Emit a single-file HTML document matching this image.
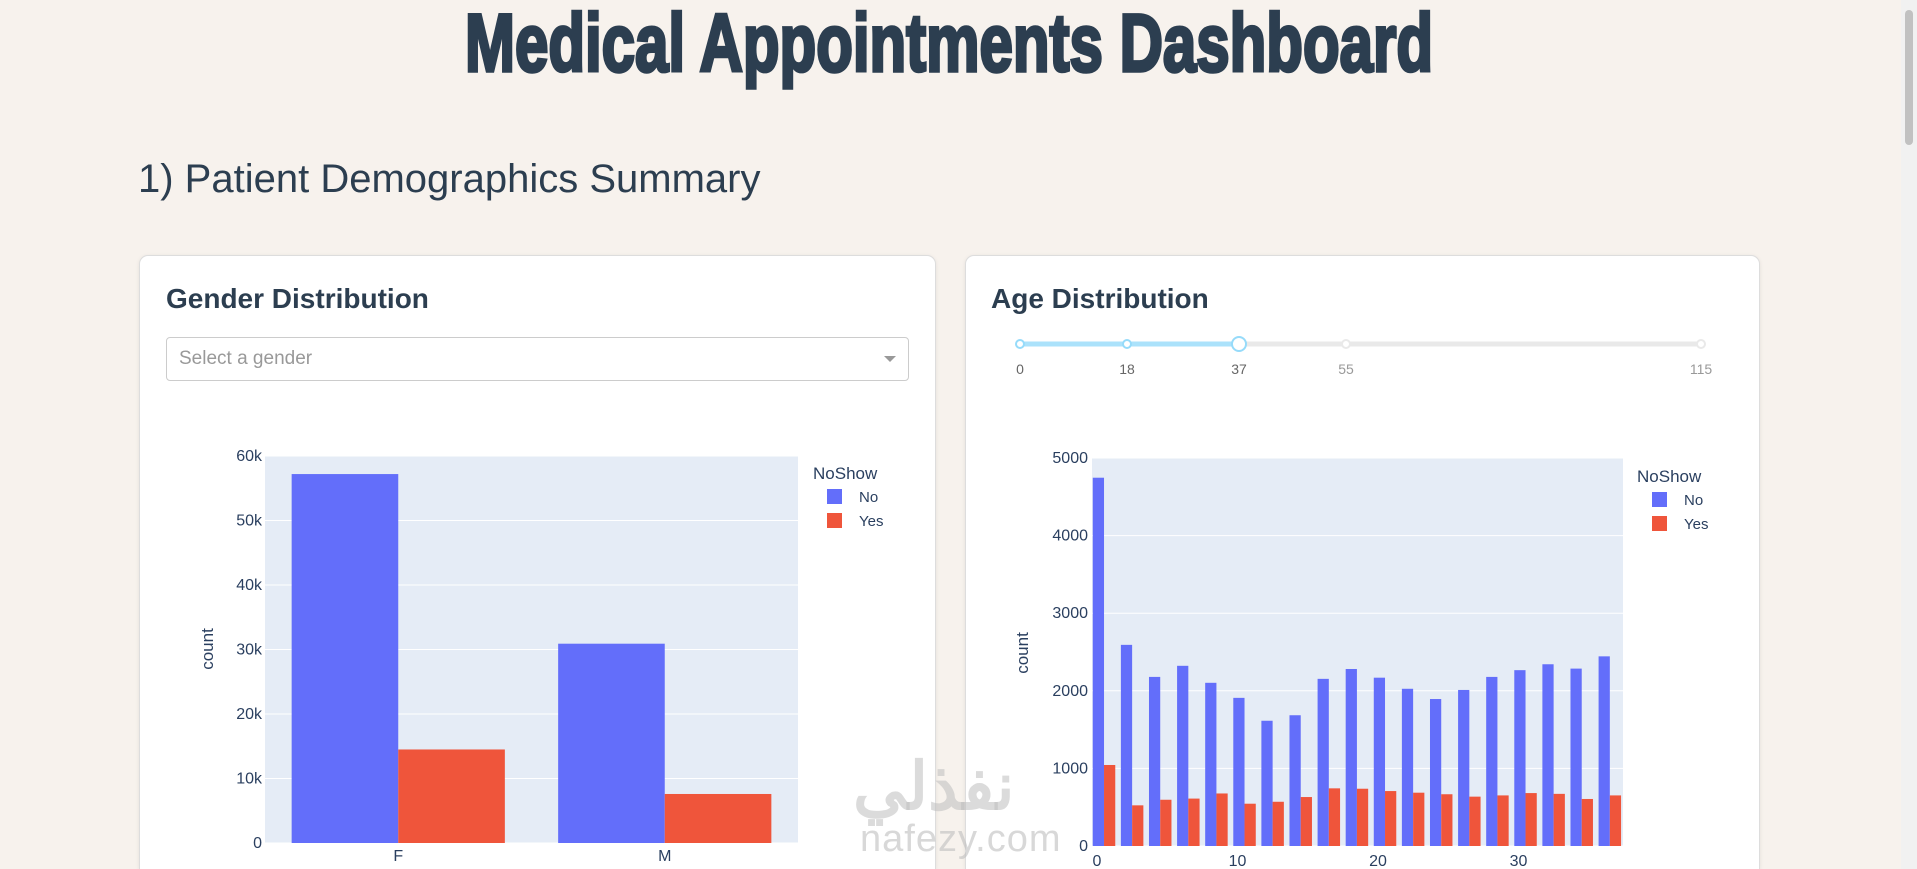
<!DOCTYPE html>
<html><head><meta charset="utf-8"><style>
html,body{margin:0;padding:0;width:1917px;height:869px;overflow:hidden;background:#f7f2ed;font-family:"Liberation Sans",sans-serif;position:relative}
.abs{position:absolute}
.card{position:absolute;background:#fff;border:1px solid #ddd;border-bottom:none;border-radius:9px 9px 0 0;box-shadow:0 1px 4px rgba(0,0,0,0.08);top:255px;height:613px}
.ctitle{position:absolute;font-weight:bold;font-size:28px;color:#2c3e50}
</style></head><body>
<svg class="abs" style="left:0;top:0" width="1917" height="100">
<text x="465" y="71" textLength="968" lengthAdjust="spacingAndGlyphs" font-family="Liberation Sans Narrow, Liberation Sans, sans-serif" font-weight="bold" font-size="82" fill="#2c3e50" stroke="#2c3e50" stroke-width="3.5">Medical Appointments Dashboard</text>
</svg>
<div class="abs" style="left:138px;top:157px;font-size:40px;color:#2c3e50">1) Patient Demographics Summary</div>

<div class="card" style="left:139px;width:795px">
<div class="ctitle" style="left:26px;top:27px">Gender Distribution</div>
<div class="abs" style="left:26px;top:81px;width:741px;height:42px;border:1px solid #ccc;border-radius:4px">
<span class="abs" style="left:12px;top:10px;font-size:19px;color:#999">Select a gender</span>
<span class="abs" style="right:12px;top:18px;width:0;height:0;border-left:6px solid transparent;border-right:6px solid transparent;border-top:6px solid #999"></span>
</div>
</div>
<div class="card" style="left:965px;width:793px">
<div class="ctitle" style="left:25px;top:27px">Age Distribution</div>
</div>

<svg id="chart" class="abs" style="left:0;top:0" width="1917" height="869"></svg>

<div class="abs" style="left:1901px;top:0;width:16px;height:869px;background:#f1f1f1">
<div class="abs" style="left:4px;top:10px;width:8px;height:135px;background:#c1c1c1;border-radius:4px"></div>
</div>

<div class="abs" style="left:853px;top:748px;font-size:66px;font-weight:bold;color:rgba(190,190,190,0.55);font-family:'Liberation Sans','Noto Sans CJK SC',sans-serif">نفذلي</div>
<div class="abs" style="left:860px;top:818px;font-size:38px;color:rgba(190,190,190,0.6);letter-spacing:1px">nafezy.com</div>

<script>
const genderCats = ["F","M"];
const genderNo = [57200, 30900];
const genderYes = [14500, 7600];
const genderTicks = [0,10000,20000,30000,40000,50000,60000];
const genderTickLabels = ["0","10k","20k","30k","40k","50k","60k"];
const ageBinStarts = [0,2,4,6,8,10,12,14,16,18,20,22,24,26,28,30,32,34,36];
const ageNo = [4746,2592,2179,2322,2103,1909,1614,1685,2154,2281,2169,2026,1894,2011,2179,2266,2342,2286,2444];
const ageYes = [1044,524,596,611,677,545,570,631,743,738,708,687,667,636,652,682,672,606,652];
const ageYTicks = [0,1000,2000,3000,4000,5000];
const ageXTicks = [0,10,20,30];
const sliderMarks = [0,18,37,55,115];
const sliderValue = 37;

const svg = document.getElementById('chart');
const NS = 'http://www.w3.org/2000/svg';
function mk(tag, attrs, parent){const e=document.createElementNS(NS,tag);for(const k in attrs)e.setAttribute(k,attrs[k]);(parent||svg).appendChild(e);return e;}
const BLUE='#636efa', RED='#ef553b', GRID='#fff', BG='#e5ecf6', TXT='#2a3f5f';

// Gender chart
{
 const L=265,R=798,T=456,B=843,max=60000;
 const y=v=>B-(v/max)*(B-T);
 const bg=mk('rect',{x:L,y:T,width:R-L,height:B-T,fill:BG});
 
 
 genderTicks.forEach((t,i)=>{
  const g=mk('line',{x1:L,x2:R,y1:y(t),y2:y(t),stroke:GRID,'stroke-width':1});
  
  
  const tx=mk('text',{x:L-3,y:y(t)+5,'text-anchor':'end','font-size':16,fill:TXT});
  tx.textContent=genderTickLabels[i];
  
  
 });
 const cw=(R-L)/genderCats.length, bw=cw*0.8/2;
 genderCats.forEach((c,i)=>{
  const x0=L+cw*i+cw*0.1;
  const b1=mk('rect',{x:x0,y:y(genderNo[i]),width:bw,height:B-y(genderNo[i]),fill:BLUE});
  
  
  const b2=mk('rect',{x:x0+bw,y:y(genderYes[i]),width:bw,height:B-y(genderYes[i]),fill:RED});
  
  
  const tx=mk('text',{x:x0+bw,y:861,'text-anchor':'middle','font-size':16,fill:TXT});
  tx.textContent=c;
  
  
 });
 const yt=mk('text',{x:0,y:0,transform:'translate(213,649) rotate(-90)','text-anchor':'middle','font-size':17,fill:TXT});
 yt.textContent='count';
 
 
 const lt=mk('text',{x:813,y:479,'font-size':17,fill:TXT});lt.textContent='NoShow';
 
 
 [['No',BLUE,497],['Yes',RED,521]].forEach(([n,c,yy])=>{
  const r=mk('rect',{x:827,y:yy-8,width:15,height:15,fill:c});
  
  
  const t=mk('text',{x:859,y:yy+5,'font-size':15,fill:TXT});t.textContent=n;
  
  
 });
}

// Age chart
{
 const L=1092,R=1623,T=458,B=846,max=5000;
 const x=v=>1097+v*14.05;
 const y=v=>B-(v/max)*(B-T);
 const bg=mk('rect',{x:L,y:T,width:R-L,height:B-T,fill:BG});
 
 
 ageYTicks.forEach(t=>{
  const g=mk('line',{x1:L,x2:R,y1:y(t),y2:y(t),stroke:GRID,'stroke-width':1});
  
  
  const tx=mk('text',{x:L-4,y:y(t)+5,'text-anchor':'end','font-size':16,fill:TXT});
  tx.textContent=t;
  
  
 });
 ageXTicks.forEach(t=>{
  const tx=mk('text',{x:x(t),y:866,'text-anchor':'middle','font-size':16,fill:TXT});
  tx.textContent=t;
  
  
 });
 ageBinStarts.forEach((s,i)=>{
  const x0=x(s-0.5), x1=x(s+1.5), w=x1-x0, bw=w*0.8/2, a=x0+w*0.1;
  const b1=mk('rect',{x:a,y:y(ageNo[i]),width:bw,height:B-y(ageNo[i]),fill:BLUE});
  
  
  const b2=mk('rect',{x:a+bw,y:y(ageYes[i]),width:bw,height:B-y(ageYes[i]),fill:RED});
  
  
 });
 const yt=mk('text',{x:0,y:0,transform:'translate(1028,653) rotate(-90)','text-anchor':'middle','font-size':17,fill:TXT});
 yt.textContent='count';
 
 
 const lt=mk('text',{x:1637,y:482,'font-size':17,fill:TXT});lt.textContent='NoShow';
 
 
 [['No',BLUE,500],['Yes',RED,524]].forEach(([n,c,yy])=>{
  const r=mk('rect',{x:1652,y:yy-8,width:15,height:15,fill:c});
  
  
  const t=mk('text',{x:1684,y:yy+5,'font-size':15,fill:TXT});t.textContent=n;
  
  
 });
 // slider
 const sx={0:1020,18:1127,37:1239,55:1346,115:1701};
 const SY=344;
 const tr=mk('line',{x1:1020,x2:1701,y1:SY,y2:SY,stroke:'#e9e9e9','stroke-width':5,'stroke-linecap':'round'});
 
 
 const fl=mk('line',{x1:1020,x2:sx[sliderValue],y1:SY,y2:SY,stroke:'#abe2fb','stroke-width':5});
 
 
 sliderMarks.forEach(m=>{
  const on=m<=sliderValue;
  const c=mk('circle',{cx:sx[m],cy:SY,r:m===sliderValue?7:4,fill:'#fff',stroke:on?'#96dbfa':'#e9e9e9','stroke-width':2});
  
  
  const t=mk('text',{x:sx[m],y:374,'text-anchor':'middle','font-size':14,fill:on?'#666':'#999'});
  t.textContent=m;
  
  
 });
}
</script>
</body></html>
